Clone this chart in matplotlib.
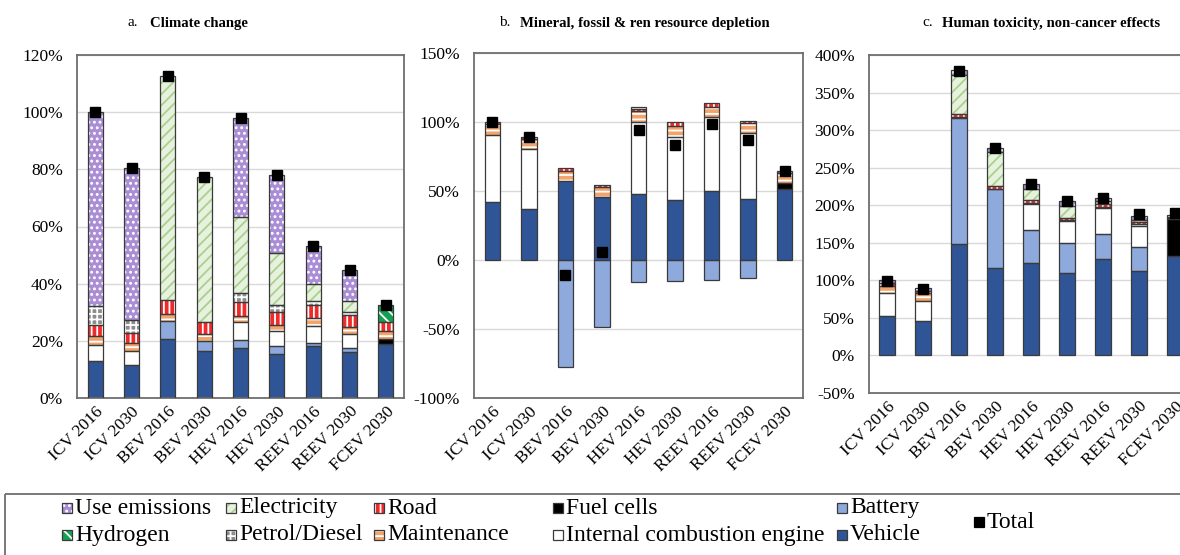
import matplotlib
matplotlib.use("Agg")
import matplotlib.pyplot as plt
from matplotlib.patches import Rectangle
from matplotlib.ticker import FuncFormatter, MultipleLocator
import numpy as np

plt.rcParams['font.family'] = ['Liberation Serif', 'DejaVu Serif']
plt.rcParams['hatch.linewidth'] = 1.3

CATEGORIES = ["ICV 2016", "ICV 2030", "BEV 2016", "BEV 2030", "HEV 2016",
              "HEV 2030", "REEV 2016", "REEV 2030", "FCEV 2030"]

# Stacking order, bottom to top
COMPONENTS = ["Vehicle", "Battery", "Internal combustion engine", "Fuel cells",
              "Maintenance", "Road", "Petrol/Diesel", "Hydrogen", "Electricity",
              "Use emissions"]

# a. Climate change (% of ICV 2016)
cc_vehicle     = [12.9, 11.5, 20.6, 16.5, 17.4, 15.5, 18.2, 16.1, 18.8]
cc_battery     = [0, 0, 6.5, 3.5, 2.8, 2.7, 0.9, 1.3, 0]
cc_engine      = [5.7, 5.0, 0, 0, 6.3, 5.1, 6.2, 5.0, 0]
cc_fuel_cells  = [0, 0, 0, 0, 0, 0, 0, 0, 1.8]
cc_maintenance = [3.2, 2.9, 2.3, 2.4, 2.3, 2.3, 2.7, 2.3, 2.7]
cc_road        = [3.8, 3.3, 5.0, 4.1, 4.7, 4.4, 4.7, 4.4, 3.4]
cc_petrol      = [6.5, 4.7, 0, 0, 3.2, 2.6, 1.1, 0.9, 0]
cc_hydrogen    = [0, 0, 0, 0, 0, 0, 0, 0, 5.9]
cc_electricity = [0, 0, 78.2, 50.8, 26.6, 18.0, 6.0, 3.9, 0]
cc_use         = [67.9, 53.2, 0, 0, 34.7, 27.3, 13.5, 10.8, 0]
cc_total       = [100.0, 80.5, 112.6, 77.3, 98.0, 77.9, 53.3, 44.7, 32.6]

# b. Mineral, fossil & renewable resource depletion (% of ICV 2016)
rd_vehicle     = [42.0, 37.1, 57.5, 45.6, 48.1, 43.2, 49.8, 44.4, 51.7]
rd_battery     = [0, 0, -77.2, -48.5, -16.3, -15.0, -14.6, -12.9, 0]
rd_engine      = [48.5, 43.0, 0, 0, 52.1, 45.9, 54.1, 47.3, 0]
rd_fuel_cells  = [0, 0, 0, 0, 0, 0, 0, 0, 4.1]
rd_maintenance = [7.8, 7.3, 7.3, 7.3, 7.8, 8.0, 7.3, 7.8, 7.3]
rd_road        = [1.7, 1.6, 1.9, 1.7, 1.6, 3.1, 2.8, 1.5, 1.7]
rd_petrol      = [0, 0, 0, 0, 1.6, 0, 0, 0, 0]
rd_hydrogen    = [0] * 9
rd_electricity = [0] * 9
rd_use         = [0] * 9
rd_total       = [100.0, 89.0, -10.9, 5.6, 94.2, 83.5, 98.8, 87.1, 64.6]

# c. Human toxicity, non-cancer effects (% of ICV 2016)
ht_vehicle     = [52.2, 45.5, 148.2, 116.1, 123.7, 110.3, 128.1, 112.5, 132.6]
ht_battery     = [0, 0, 167.4, 104.9, 43.7, 39.3, 33.5, 31.3, 0]
ht_engine      = [30.4, 26.8, 0, 0, 34.4, 29.0, 34.8, 29.0, 0]
ht_fuel_cells  = [0, 0, 0, 0, 0, 0, 0, 0, 49.5]
ht_maintenance = [9.8, 10.3, 1.5, 1.2, 1.8, 1.4, 1.8, 1.6, 1.0]
ht_road        = [3.6, 3.1, 4.3, 3.2, 4.0, 3.0, 4.0, 3.3, 1.3]
ht_petrol      = [0] * 9
ht_hydrogen    = [0] * 9
ht_electricity = [0, 0, 51.4, 45.6, 14.3, 15.7, 3.6, 2.3, 0]
ht_use         = [4.0, 3.6, 6.7, 5.8, 6.7, 6.7, 4.0, 5.3, 3.1]
ht_total       = [99.5, 88.5, 379.0, 276.0, 228.0, 205.0, 210.0, 188.0, 189.0]

# face colour, hatch pattern, hatch colour
STYLE = {
    "Vehicle":                   ("#2F5597", None, "#2F5597"),
    "Battery":                   ("#8EA9DB", None, "#8EA9DB"),
    "Internal combustion engine": ("#FFFFFF", None, "#FFFFFF"),
    "Fuel cells":                ("#000000", None, "#000000"),
    "Maintenance":               ("#F2A46C", "---", "#FFFFFF"),
    "Road":                      ("#F02A2A", "|||", "#FFFFFF"),
    "Petrol/Diesel":             ("#8C8C8C", "+++", "#FFFFFF"),
    "Hydrogen":                  ("#13A050", "\\\\\\", "#FFFFFF"),
    "Electricity":               ("#E6F2DD", "///", "#A9D18E"),
    "Use emissions":             ("#A98ED6", "...", "#FFFFFF"),
}
OUTLINE = "#3A3A3A"
FRAME = "#6E6E6E"
BAR_W = 0.42


def draw_stack(ax, series, totals):
    x = np.arange(len(CATEGORIES))
    pos = np.zeros(len(x))
    neg = np.zeros(len(x))
    for name in COMPONENTS:
        vals = np.asarray(series[name], dtype=float)
        keep = vals != 0
        if keep.any():
            bottom = np.where(vals >= 0, pos, neg)
            face, hatch, hcol = STYLE[name]
            ax.bar(x[keep], vals[keep], width=BAR_W, bottom=bottom[keep],
                   color=face, edgecolor=hcol, hatch=hatch, linewidth=0, zorder=2)
            ax.bar(x[keep], vals[keep], width=BAR_W, bottom=bottom[keep],
                   fill=False, edgecolor=OUTLINE, linewidth=0.9, zorder=3)
        pos += np.where(vals > 0, vals, 0)
        neg += np.where(vals < 0, vals, 0)
    ax.plot(x, totals, "s", color="black", ms=7.2, zorder=4)


def style_axes(ax, lo, hi, step):
    x = np.arange(len(CATEGORIES))
    ax.set_xlim(-0.5, len(CATEGORIES) - 0.5)
    ax.set_ylim(lo, hi)
    ax.yaxis.set_major_locator(MultipleLocator(step))
    ax.yaxis.set_major_formatter(FuncFormatter(lambda v, p: f"{v:.0f}%"))
    ax.grid(axis="y", color="#D9D9D9", linewidth=1.0, zorder=0)
    ax.set_axisbelow(True)
    ax.tick_params(length=0, labelsize=12.5, pad=10)
    ax.tick_params(axis="x", pad=4)
    ax.set_xticks(x)
    ax.set_xticklabels(CATEGORIES, rotation=45, ha="right", rotation_mode="anchor")
    for s in ax.spines.values():
        s.set_color(FRAME)
        s.set_linewidth(1.3)


W, H = 1180, 555
fig = plt.figure(figsize=(W / 100, H / 100), dpi=100)


def px_axes(x0, x1, ytop, ybot):
    return fig.add_axes([x0 / W, 1 - ybot / H, (x1 - x0) / W, (ybot - ytop) / H])


ax_a = px_axes(77, 404, 55, 398)
ax_b = px_axes(474, 803, 53, 398)
ax_c = px_axes(869, 1193, 55, 393)

climate = {"Vehicle": cc_vehicle, "Battery": cc_battery,
           "Internal combustion engine": cc_engine, "Fuel cells": cc_fuel_cells,
           "Maintenance": cc_maintenance, "Road": cc_road, "Petrol/Diesel": cc_petrol,
           "Hydrogen": cc_hydrogen, "Electricity": cc_electricity, "Use emissions": cc_use}
depletion = {"Vehicle": rd_vehicle, "Battery": rd_battery,
             "Internal combustion engine": rd_engine, "Fuel cells": rd_fuel_cells,
             "Maintenance": rd_maintenance, "Road": rd_road, "Petrol/Diesel": rd_petrol,
             "Hydrogen": rd_hydrogen, "Electricity": rd_electricity, "Use emissions": rd_use}
toxicity = {"Vehicle": ht_vehicle, "Battery": ht_battery,
            "Internal combustion engine": ht_engine, "Fuel cells": ht_fuel_cells,
            "Maintenance": ht_maintenance, "Road": ht_road, "Petrol/Diesel": ht_petrol,
            "Hydrogen": ht_hydrogen, "Electricity": ht_electricity, "Use emissions": ht_use}

draw_stack(ax_a, climate, cc_total)
style_axes(ax_a, 0, 120, 20)
draw_stack(ax_b, depletion, rd_total)
style_axes(ax_b, -100, 150, 50)
draw_stack(ax_c, toxicity, ht_total)
style_axes(ax_c, -50, 400, 50)

# Panel titles: regular letter followed by bold name
TITLES = [("a.", "Climate change", 128, 150),
          ("b.", "Mineral, fossil & ren resource depletion", 499, 520),
          ("c.", "Human toxicity, non-cancer effects", 922, 942)]
for letter, name, xl, xn in TITLES:
    fig.text(xl / W, 1 - 23 / H, letter, fontsize=11, va="center", ha="left")
    fig.text(xn / W, 1 - 23 / H, name, fontsize=10.6, fontweight="bold",
             va="center", ha="left")

# Legend drawn on a full-figure overlay in pixel coordinates
lax = fig.add_axes([0, 0, 1, 1])
lax.set_xlim(0, W)
lax.set_ylim(H, 0)
lax.axis("off")
lax.add_patch(Rectangle((5, 494), 1300, 100, fill=False, edgecolor=FRAME,
                        linewidth=1.3))

LEGEND_ITEMS = [("Use emissions", 62, 508), ("Hydrogen", 62, 535),
                ("Electricity", 226, 508), ("Petrol/Diesel", 226, 535),
                ("Road", 374, 508), ("Maintenance", 374, 535),
                ("Fuel cells", 553, 508), ("Internal combustion engine", 553, 535),
                ("Battery", 837, 508), ("Vehicle", 837, 535)]
SQ = 10
for name, lx, ly in LEGEND_ITEMS:
    face, hatch, hcol = STYLE[name]
    lax.add_patch(Rectangle((lx, ly - SQ / 2), SQ, SQ, facecolor=face,
                            edgecolor=hcol, hatch=hatch, linewidth=0))
    lax.add_patch(Rectangle((lx, ly - SQ / 2), SQ, SQ, fill=False,
                            edgecolor=OUTLINE, linewidth=0.9))
    lax.text(lx + SQ + 3, ly, name, fontsize=17, va="center", ha="left")

lax.add_patch(Rectangle((974, 522 - SQ / 2), SQ, SQ, facecolor="black",
                        edgecolor="black", linewidth=0.9))
lax.text(974 + SQ + 3, 522, "Total", fontsize=17, va="center", ha="left")

fig.savefig("out.png", dpi=100)
